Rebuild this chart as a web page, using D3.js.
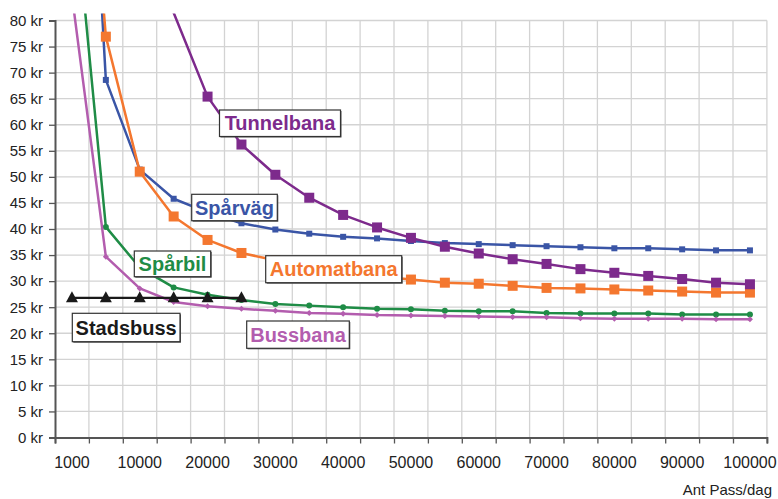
<!DOCTYPE html>
<html>
<head>
<meta charset="utf-8">
<script src="https://cdn.jsdelivr.net/npm/d3@7"></script>
<style>
  html, body { margin: 0; padding: 0; background: #fff; }
  svg { display: block; font-family: "Liberation Sans", Arial, sans-serif; }
</style>
</head>
<body>
<svg id="chart" width="778" height="499"></svg>
<script>
// Passengers per day (category axis)
const categories = [1000, 5000, 10000, 15000, 20000, 25000, 30000, 35000, 40000, 45000, 50000,
                    55000, 60000, 65000, 70000, 75000, 80000, 85000, 90000, 95000, 100000];
// Labelled categories on the x axis
const xTickLabels = [1000, 10000, 20000, 30000, 40000, 50000, 60000, 70000, 80000, 90000, 100000];
// Cost per passenger (kr) ticks
const yTicks = [0, 5, 10, 15, 20, 25, 30, 35, 40, 45, 50, 55, 60, 65, 70, 75, 80];

// Cost per trip (kr) for each mode
const sparvag     = [185, 68.6, 51.4, 45.8, 43.2, 41.1, 39.9, 39.1, 38.5, 38.2, 37.7, 37.3, 37.1, 36.9, 36.7, 36.5, 36.3, 36.3, 36.1, 35.9, 35.9];
const automatbana = [158, 76.9, 51.0, 42.4, 37.9, 35.4, 34.0, 32.8, 31.9, 31.0, 30.3, 29.7, 29.5, 29.1, 28.7, 28.6, 28.4, 28.2, 28.0, 27.8, 27.8];
const tunnelbana  = [200, 130, 100, 81.5, 65.4, 56.2, 50.4, 46.0, 42.7, 40.3, 38.3, 36.6, 35.3, 34.2, 33.3, 32.3, 31.6, 31.0, 30.4, 29.7, 29.4];
const sparbil     = [108, 40.4, 32.6, 28.8, 27.4, 26.4, 25.6, 25.3, 25.0, 24.7, 24.6, 24.3, 24.2, 24.2, 23.9, 23.8, 23.8, 23.8, 23.6, 23.6, 23.6];
const bussbana    = [84.8, 34.7, 28.6, 26.0, 25.2, 24.7, 24.3, 23.9, 23.75, 23.5, 23.4, 23.3, 23.2, 23.1, 23.05, 22.9, 22.8, 22.8, 22.8, 22.7, 22.7];
const stadsbuss   = [26.8, 26.8, 26.8, 26.8, 26.8, 26.8];

const series = [
  { name: "Spårväg",     values: sparvag,     color: "#3A55A6", marker: "square",   size: 6 },
  { name: "Automatbana", values: automatbana, color: "#F4772F", marker: "square",   size: 10 },
  { name: "Tunnelbana",  values: tunnelbana,  color: "#7D2A8C", marker: "square",   size: 10 },
  { name: "Spårbil",     values: sparbil,     color: "#1F8C46", marker: "circle",   size: 6 },
  { name: "Bussbana",    values: bussbana,    color: "#B35DAE", marker: "diamond",  size: 6 },
  { name: "Stadsbuss",   values: stadsbuss,   color: "#1A1A1A", marker: "triangle", size: 12 }
];

// Callout boxes naming each line
const callouts = [
  { name: "Tunnelbana",  color: "#7D2A8C", x: 219.5, y: 110.0, w: 121.0, h: 26.5 },
  { name: "Spårväg",     color: "#3A55A6", x: 191.7, y: 194.3, w: 85.6,  h: 26.4 },
  { name: "Spårbil",     color: "#1F8C46", x: 134.3, y: 251.0, w: 76.4,  h: 25.7 },
  { name: "Automatbana", color: "#F4772F", x: 265.7, y: 255.7, w: 136.0, h: 27.0 },
  { name: "Bussbana",    color: "#B35DAE", x: 246.7, y: 321.0, w: 102.6, h: 27.3 },
  { name: "Stadsbuss",   color: "#1A1A1A", x: 72.3,  y: 313.3, w: 107.7, h: 28.4 }
];

const svg = d3.select("#chart");
const plotLeft = 55, plotRight = 766.9, plotTop = 20.5, plotBottom = 437.5, clipTop = 13.5;

const x = d3.scaleBand().domain(categories).range([plotLeft, plotRight]).paddingInner(0).paddingOuter(0);
const xEdge = d3.scaleLinear().domain([0, categories.length]).range([plotLeft, plotRight]);
const y = d3.scaleLinear().domain([0, 80]).range([plotBottom, plotTop]);

svg.append("rect").attr("width", 778).attr("height", 499).attr("fill", "#fff");

svg.append("defs").append("clipPath").attr("id", "plot-clip")
  .append("rect").attr("x", plotLeft).attr("y", clipTop)
  .attr("width", plotRight - plotLeft + 2).attr("height", plotBottom - clipTop);

// Grid
const grid = svg.append("g").attr("stroke", "#D3D3D3").attr("stroke-width", 1.3);
grid.selectAll("line.h").data(yTicks.filter(d => d > 0)).join("line").attr("class", "h")
  .attr("x1", plotLeft).attr("x2", plotRight).attr("y1", d => y(d)).attr("y2", d => y(d));
grid.selectAll("line.v").data(d3.range(1, categories.length + 1)).join("line").attr("class", "v")
  .attr("x1", d => xEdge(d)).attr("x2", d => xEdge(d)).attr("y1", plotTop).attr("y2", plotBottom);

// Y axis
const yAxis = svg.append("g").attr("transform", `translate(${plotLeft},0)`)
  .call(d3.axisLeft(y).tickValues(yTicks).tickFormat(d => d + " kr").tickSize(6).tickPadding(6));
yAxis.select(".domain").attr("stroke", "#555").attr("stroke-width", 2);
yAxis.selectAll(".tick line").attr("stroke", "#555").attr("stroke-width", 1.3);
yAxis.selectAll(".tick text").attr("fill", "#222").style("font-size", "15px")
  .style("font-family", "'Liberation Sans', Arial, sans-serif");

// X axis: tick marks on category boundaries, labels on every other category
const xTicks = svg.append("g").attr("transform", `translate(0,${plotBottom})`)
  .call(d3.axisBottom(xEdge).tickValues(d3.range(0, categories.length + 1)).tickFormat("").tickSize(6));
xTicks.select(".domain").attr("stroke", "#555").attr("stroke-width", 2);
xTicks.selectAll(".tick line").attr("stroke", "#555").attr("stroke-width", 1.3);

const xLabels = svg.append("g").attr("transform", `translate(0,${plotBottom})`)
  .call(d3.axisBottom(x).tickValues(xTickLabels).tickSize(0).tickPadding(19));
xLabels.select(".domain").remove();
xLabels.selectAll(".tick text").attr("fill", "#222").style("font-size", "16px")
  .style("font-family", "'Liberation Sans', Arial, sans-serif");

svg.append("text").attr("x", 772).attr("y", 495).attr("text-anchor", "end")
  .attr("fill", "#222").style("font-size", "15px").text("Ant Pass/dag");

// Lines and markers
const plot = svg.append("g").attr("clip-path", "url(#plot-clip)");
const line = d3.line().x((d, i) => x(categories[i]) + x.bandwidth() / 2).y(d => y(d));

series.forEach(s => {
  const g = plot.append("g");
  g.append("path").datum(s.values).attr("d", line).attr("fill", "none")
    .attr("stroke", s.color).attr("stroke-width", s.marker === "triangle" ? 2.2 : 2.5)
    .attr("stroke-linejoin", "round");
  const pts = s.values.map((v, i) => ({ v, i })).filter(p => p.v <= 80);
  const cx = p => x(categories[p.i]) + x.bandwidth() / 2;
  const h = s.size / 2;
  if (s.marker === "square") {
    g.selectAll("rect").data(pts).join("rect")
      .attr("x", p => cx(p) - h).attr("y", p => y(p.v) - h)
      .attr("width", s.size).attr("height", s.size).attr("fill", s.color);
  } else if (s.marker === "circle") {
    g.selectAll("circle").data(pts).join("circle")
      .attr("cx", cx).attr("cy", p => y(p.v)).attr("r", h).attr("fill", s.color);
  } else if (s.marker === "diamond") {
    g.selectAll("path.m").data(pts).join("path").attr("class", "m")
      .attr("d", p => `M${cx(p)},${y(p.v) - h}L${cx(p) + h},${y(p.v)}L${cx(p)},${y(p.v) + h}L${cx(p) - h},${y(p.v)}Z`)
      .attr("fill", s.color);
  } else {
    g.selectAll("path.m").data(pts).join("path").attr("class", "m")
      .attr("d", p => `M${cx(p)},${y(p.v) - 6.5}L${cx(p) + 6},${y(p.v) + 4.5}L${cx(p) - 6},${y(p.v) + 4.5}Z`)
      .attr("fill", s.color);
  }
});

// Callouts
const cg = svg.append("g").selectAll("g").data(callouts).join("g");
cg.append("rect").attr("x", d => d.x + 1).attr("y", d => d.y + 1).attr("width", d => d.w).attr("height", d => d.h)
  .attr("fill", "#555");
cg.append("rect").attr("x", d => d.x).attr("y", d => d.y).attr("width", d => d.w).attr("height", d => d.h)
  .attr("fill", "#fff").attr("stroke", "#333").attr("stroke-width", 1.2);
cg.append("text").attr("x", d => d.x + d.w / 2).attr("y", d => d.y + d.h / 2 + 7)
  .attr("text-anchor", "middle").attr("fill", d => d.color)
  .style("font-size", "20px").style("font-weight", "bold").text(d => d.name);
</script>
</body>
</html>
